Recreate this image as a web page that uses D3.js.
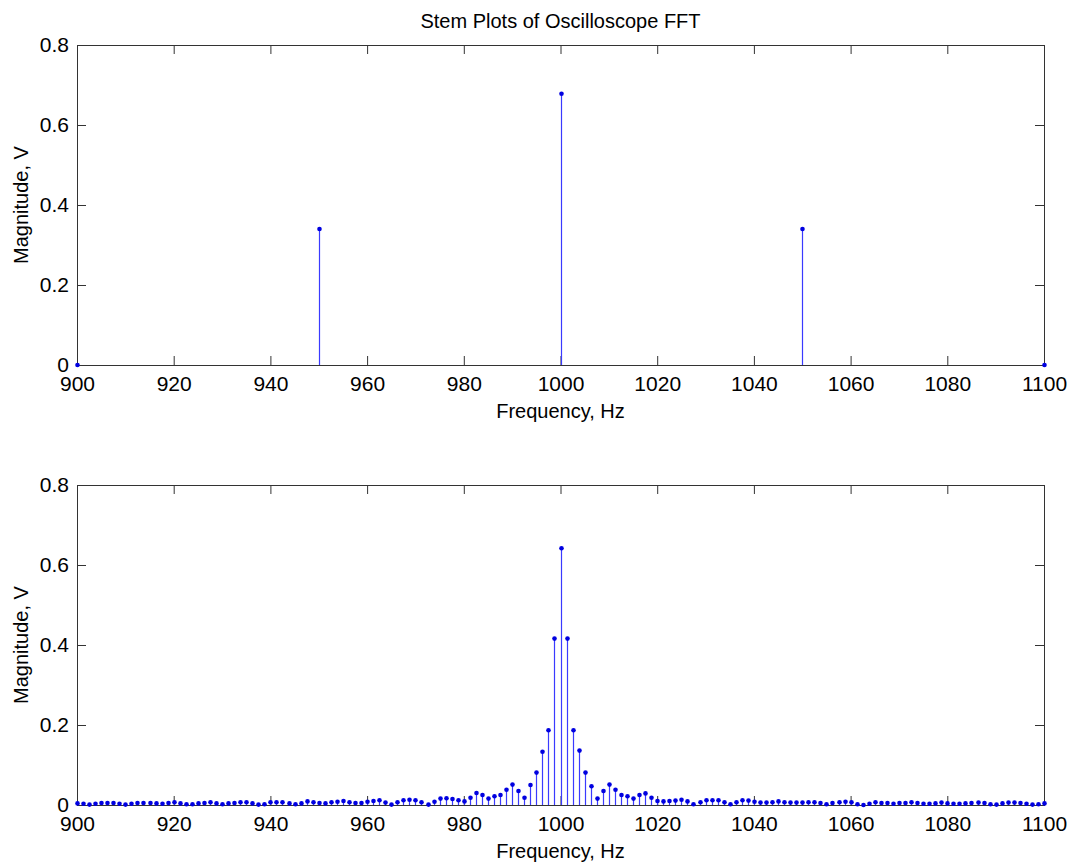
<!DOCTYPE html>
<html><head><meta charset="utf-8">
<script src="https://cdn.jsdelivr.net/npm/d3@7"></script>
<style>
body{margin:0;background:#fff}
text{font-family:"Liberation Sans",Arial,Helvetica,sans-serif}
</style>
</head><body>
<svg id="chart" width="1072" height="867"></svg>
<script>
const chartTitle = "Stem Plots of Oscilloscope FFT";
const xLabel = "Frequency, Hz";
const yLabel = "Magnitude, V";
const xTicks = [900,920,940,960,980,1000,1020,1040,1060,1080,1100];
const yTicks = [0,0.2,0.4,0.6,0.8];
const yTickLabels = ["0","0.2","0.4","0.6","0.8"];

const topFreq = [900,950,1000,1050,1100];
const topMag  = [0,0.34,0.678,0.34,0];

const bottomFreq = [
900,901.25,902.5,903.75,905,906.25,907.5,908.75,
910,911.25,912.5,913.75,915,916.25,917.5,918.75,
920,921.25,922.5,923.75,925,926.25,927.5,928.75,
930,931.25,932.5,933.75,935,936.25,937.5,938.75,
940,941.25,942.5,943.75,945,946.25,947.5,948.75,
950,951.25,952.5,953.75,955,956.25,957.5,958.75,
960,961.25,962.5,963.75,965,966.25,967.5,968.75,
970,971.25,972.5,973.75,975,976.25,977.5,978.75,
980,981.25,982.5,983.75,985,986.25,987.5,988.75,
990,991.25,992.5,993.75,995,996.25,997.5,998.75,
1000,1001.25,1002.5,1003.75,1005,1006.25,1007.5,1008.75,
1010,1011.25,1012.5,1013.75,1015,1016.25,1017.5,1018.75,
1020,1021.25,1022.5,1023.75,1025,1026.25,1027.5,1028.75,
1030,1031.25,1032.5,1033.75,1035,1036.25,1037.5,1038.75,
1040,1041.25,1042.5,1043.75,1045,1046.25,1047.5,1048.75,
1050,1051.25,1052.5,1053.75,1055,1056.25,1057.5,1058.75,
1060,1061.25,1062.5,1063.75,1065,1066.25,1067.5,1068.75,
1070,1071.25,1072.5,1073.75,1075,1076.25,1077.5,1078.75,
1080,1081.25,1082.5,1083.75,1085,1086.25,1087.5,1088.75,
1090,1091.25,1092.5,1093.75,1095,1096.25,1097.5,1098.75,
1100];

const bottomMag = [
0.004,0.003,0.001,0.003,0.005,0.005,0.005,0.003,
0.001,0.003,0.005,0.005,0.005,0.004,0.003,0.005,
0.007,0.004,0.002,0.002,0.004,0.005,0.007,0.004,
0.002,0.004,0.005,0.007,0.007,0.004,0.001,0.002,
0.007,0.007,0.007,0.004,0.002,0.004,0.009,0.007,
0.005,0.004,0.007,0.008,0.010,0.007,0.005,0.005,
0.008,0.010,0.012,0.006,0.001,0.007,0.012,0.013,
0.012,0.007,0.001,0.008,0.016,0.017,0.015,0.012,
0.009,0.018,0.030,0.025,0.016,0.022,0.025,0.038,
0.051,0.035,0.018,0.050,0.081,0.133,0.187,0.416,
0.642,0.416,0.187,0.136,0.081,0.047,0.016,0.035,
0.051,0.038,0.025,0.022,0.016,0.025,0.029,0.018,
0.010,0.009,0.010,0.011,0.013,0.009,0.002,0.007,
0.012,0.012,0.012,0.007,0.002,0.007,0.012,0.011,
0.008,0.006,0.006,0.007,0.009,0.007,0.006,0.006,
0.006,0.007,0.007,0.005,0.002,0.005,0.007,0.008,
0.007,0.002,0.000,0.003,0.007,0.005,0.005,0.003,
0.005,0.005,0.007,0.005,0.003,0.003,0.004,0.006,
0.004,0.003,0.003,0.004,0.005,0.006,0.005,0.002,
0.001,0.004,0.006,0.006,0.005,0.003,0.001,0.002,
0.004];

const svg = d3.select("#chart");
const left = 77, right = 1044;
const panels = [
  {top: 45, bottom: 365, freq: topFreq, mag: topMag},
  {top: 485, bottom: 805, freq: bottomFreq, mag: bottomMag}
];
const axisColor = "#333333";
const stemColor = "#3a3aff";
const markColor = "#0000e0";
const FS = 21;

svg.append("text")
  .attr("x", (left + right) / 2).attr("y", 28)
  .attr("text-anchor", "middle").attr("font-size", FS - 1).attr("fill", "#000")
  .text(chartTitle);

panels.forEach(p => {
  const x = d3.scaleLinear().domain([900, 1100]).range([left, right]);
  const y = d3.scaleLinear().domain([0, 0.8]).range([p.bottom, p.top]);
  const g = svg.append("g");
  const data = p.freq.map((f, i) => ({f, v: p.mag[i]}));

  const styleAxis = sel => {
    sel.select(".domain").remove();
    sel.selectAll(".tick line").attr("stroke", axisColor);
    sel.selectAll(".tick text").attr("fill", "#000").attr("font-size", FS)
      .attr("font-family", "'Liberation Sans',Arial,sans-serif");
  };
  g.append("g").attr("transform", `translate(0,${p.bottom})`)
    .call(d3.axisBottom(x).tickValues(xTicks).tickFormat(d3.format("d")).tickSize(-9).tickPadding(11))
    .call(styleAxis);
  g.append("g").attr("transform", `translate(0,${p.top})`)
    .call(d3.axisTop(x).tickValues(xTicks).tickFormat("").tickSize(-9))
    .call(styleAxis);
  g.append("g").attr("transform", `translate(${left},0)`)
    .call(d3.axisLeft(y).tickValues(yTicks).tickFormat((d, i) => yTickLabels[i]).tickSize(-9).tickPadding(8))
    .call(styleAxis);
  g.append("g").attr("transform", `translate(${right},0)`)
    .call(d3.axisRight(y).tickValues(yTicks).tickFormat("").tickSize(-9))
    .call(styleAxis);

  g.selectAll("line.stem").data(data).enter().append("line")
    .attr("class", "stem")
    .attr("x1", d => Math.round(x(d.f)) + 0.5).attr("x2", d => Math.round(x(d.f)) + 0.5)
    .attr("y1", y(0)).attr("y2", d => y(d.v))
    .attr("stroke", stemColor).attr("stroke-width", 1.2);

  g.append("rect")
    .attr("x", left + 0.5).attr("y", p.top + 0.5)
    .attr("width", right - left).attr("height", p.bottom - p.top)
    .attr("fill", "none").attr("stroke", axisColor).attr("stroke-width", 1);

  g.selectAll("circle.mk").data(data).enter().append("circle")
    .attr("class", "mk")
    .attr("cx", d => Math.round(x(d.f)) + 0.5).attr("cy", d => y(d.v))
    .attr("r", 2.3).attr("fill", markColor);

  g.append("text")
    .attr("x", (left + right) / 2).attr("y", p.bottom + 53)
    .attr("text-anchor", "middle").attr("font-size", FS - 1).attr("fill", "#000")
    .text(xLabel);
  g.append("text")
    .attr("transform", `translate(28,${(p.top + p.bottom) / 2}) rotate(-90)`)
    .attr("text-anchor", "middle").attr("font-size", FS - 1).attr("fill", "#000")
    .text(yLabel);
});
</script>
</body></html>
